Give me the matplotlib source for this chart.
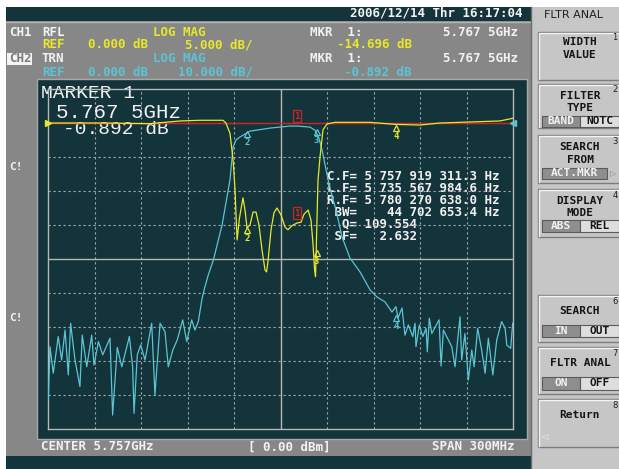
import matplotlib.pyplot as plt
from matplotlib.patches import Rectangle

# sweep settings
center_mhz = 5757
span_mhz = 300
start_mhz = center_mhz - span_mhz / 2
stop_mhz = center_mhz + span_mhz / 2

# CH2 TRN (cyan, 10 dB/div)
trn_freq = [5607.2, 5608.3, 5610.4, 5613.6, 5615.8, 5618.0, 5620.1, 5621.6, 5624.4, 5627.6,
            5629.1, 5632.0, 5635.2, 5636.7, 5639.5, 5642.3, 5647.0, 5648.7, 5651.7, 5654.6,
            5659.5, 5661.6, 5662.5, 5664.6, 5666.8, 5669.6, 5673.9, 5676.0, 5679.3, 5682.5,
            5684.6, 5687.5, 5690.4, 5693.9, 5696.5, 5699.7, 5701.8, 5704.0, 5706.2, 5707.7,
            5710.4, 5713.7, 5719.3, 5724.4, 5726.4, 5728.3, 5730.9, 5737.3, 5750.2, 5763.1,
            5767.7, 5776.0, 5779.2, 5781.8, 5783.8, 5786.4, 5788.9, 5792.8, 5796.7, 5801.8,
            5808.3, 5814.8, 5819.3, 5824.4, 5828.9, 5831.5, 5832.8, 5835.4, 5837.3, 5839.5,
            5842.3, 5843.8, 5844.4, 5846.6, 5848.8, 5850.9, 5851.7, 5853.0, 5854.6, 5859.3,
            5860.6, 5862.1, 5865.3, 5867.5, 5869.6, 5871.1, 5872.8, 5873.9, 5876.0, 5878.2,
            5880.4, 5881.9, 5884.2, 5886.8, 5889.0, 5891.1, 5894.0, 5896.5, 5899.7, 5901.9,
            5903.0, 5905.5, 5906.8]
trn_db = [-81.5, -65.8, -73.6, -62.8, -69.7, -60.9, -74.1, -58.9, -69.7, -77.5,
          -62.4, -71.7, -62.4, -71.2, -64.3, -68.2, -63.3, -85.9, -66.0, -71.7,
          -62.8, -71.7, -85.4, -68.2, -65.3, -69.7, -58.9, -80.0, -58.9, -61.4,
          -71.7, -66.8, -63.8, -57.9, -64.3, -57.9, -60.9, -58.4, -52.1, -49.1,
          -44.7, -40.3, -30.0, -16.8, -7.1, -5.0, -4.1, -2.4, -1.5, -0.9,
          -0.9, -1.2, -2.1, -4.4, -7.9, -13.8, -19.1, -25.6, -33.5, -39.7,
          -43.8, -49.1, -51.2, -52.6, -55.6, -54.0, -57.4, -54.4, -62.4, -59.4,
          -62.8, -58.9, -65.8, -59.4, -62.8, -60.4, -67.3, -57.4, -61.9, -57.9,
          -71.5, -60.9, -63.8, -65.8, -71.7, -64.8, -57.0, -69.7, -61.9, -75.6,
          -66.8, -71.7, -60.4, -66.8, -73.6, -63.3, -74.1, -63.8, -58.4, -60.4,
          -65.3, -66.3, -58.9]

# CH1 RFL (yellow, 5 dB/div)
rfl_freq = [5607.0, 5640.6, 5672.8, 5692.2, 5705.1, 5719.9, 5721.8, 5724.4, 5726.4, 5727.7,
            5728.3, 5729.0, 5730.5, 5732.8, 5734.1, 5735.4, 5737.3, 5739.3, 5741.2, 5743.1,
            5745.1, 5747.0, 5748.0, 5748.9, 5750.9, 5752.8, 5754.7, 5757.3, 5759.9, 5761.8,
            5764.4, 5767.7, 5770.2, 5772.2, 5774.8, 5776.7, 5778.0, 5779.0, 5779.6, 5780.2,
            5781.2, 5782.5, 5784.4, 5787.0, 5792.2, 5814.8, 5830.9, 5847.0, 5859.9, 5879.3,
            5898.6, 5907.0]
rfl_db = [0.0, 0.0, -0.1, 0.3, 0.4, 0.4, 0.0, -1.5, -5.4, -9.9,
          -13.5, -17.2, -14.0, -11.0, -12.8, -15.4, -15.0, -13.1, -13.1, -15.0,
          -18.7, -21.6, -21.9, -20.4, -15.7, -13.2, -12.5, -13.5, -15.3, -15.7,
          -15.1, -14.7, -14.6, -13.4, -12.8, -14.3, -17.9, -21.6, -22.6, -17.2,
          -8.4, -5.0, -1.0, -0.15, 0.1, 0.1, -0.2, -0.3, 0.0, 0.15,
          0.3, 0.7]

# markers 1..4
mkr_names = ["1", "2", "3", "4"]
mkr_freq = [5767.5, 5735.6, 5780.3, 5831.5]
mkr_trn_db = [-0.892, -3.2, -2.6, -57.4]
mkr_rfl_db = [-14.696, -15.7, -19.1, -0.7]

filter_lines = ["C.F= 5 757 919 311.3 Hz",
                "L.F= 5 735 567 984.6 Hz",
                "R.F= 5 780 270 638.0 Hz",
                " BW=    44 702 653.4 Hz",
                "  Q= 109.554",
                " SF=   2.632"]

DARK = "#12343a"
GREY = "#878787"
PANEL = "#c6c6c6"
WHITE = "#f2f2f2"
YEL = "#e8e82a"
CYN = "#5cc4d4"
RED = "#d02424"
MONO = "DejaVu Sans Mono"

fig = plt.figure(figsize=(6.19, 4.69), dpi=100)
bg = fig.add_axes([0, 0, 1, 1])
bg.set_xlim(0, 619)
bg.set_ylim(469, 0)
bg.axis("off")


def rect(x0, y0, x1, y1, fc, ec="none", lw=0.0, z=1):
    bg.add_patch(Rectangle((x0, y0), x1 - x0, y1 - y0, facecolor=fc,
                           edgecolor=ec, linewidth=lw, zorder=z))


def txt(x, y, s, color=WHITE, size=9, ha="left", weight="bold", family=MONO, z=5):
    bg.text(x, y, s, color=color, fontsize=size, ha=ha, va="center",
            fontweight=weight, family=family, zorder=z)


# screen frame
rect(6, 7, 531, 456, GREY)
rect(6, 7, 531, 21, DARK)
rect(6, 456, 533, 469, DARK)
rect(37, 79, 527, 439, DARK, ec="#a8a8a8", lw=1.0, z=2)
bg.plot([6, 531], [22, 22], color="#b4b4b4", lw=1, zorder=3)

# right soft-key panel
rect(531, 7, 619, 469, PANEL)
bg.plot([531, 531], [7, 469], color="#6a6a6a", lw=1, zorder=3)
txt(574, 15, "FLTR ANAL", color="#202020", size=8, ha="center", weight="normal", family="DejaVu Sans")


def softkey(y0, y1, num):
    rect(538, y0, 625, y1, PANEL, ec="#7c7c7c", lw=1.0, z=2)
    bg.plot([539, 539, 622], [y1 - 1, y0 + 1, y0 + 1], color="#f4f4f4", lw=1, zorder=3)
    txt(615, y0 + 6, num, color="#202020", size=6, ha="center", weight="normal", family="DejaVu Sans")


def toggle(y0, y1, left, right, lx0=542, mid=580, rx1=619):
    rect(lx0, y0, mid, y1, "#8e8e8e", ec="#5a5a5a", lw=0.8, z=3)
    rect(mid, y0, rx1, y1, "#dedede", ec="#5a5a5a", lw=0.8, z=3)
    txt((lx0 + mid) / 2, (y0 + y1) / 2, left, color=WHITE, size=8, ha="center")
    txt((mid + rx1) / 2, (y0 + y1) / 2, right, color="#151515", size=8, ha="center")


softkey(32, 80, "1")
txt(580, 42, "WIDTH", color="#151515", size=8, ha="center")
txt(580, 55, "VALUE", color="#151515", size=8, ha="center")

softkey(84, 128, "2")
txt(580, 96, "FILTER", color="#151515", size=8, ha="center")
txt(580, 108, "TYPE", color="#151515", size=8, ha="center")
toggle(116, 127, "BAND", "NOTC")

softkey(135, 183, "3")
txt(580, 147, "SEARCH", color="#151515", size=8, ha="center")
txt(580, 160, "FROM", color="#151515", size=8, ha="center")
rect(542, 168, 607, 179, "#8e8e8e", ec="#5a5a5a", lw=0.8, z=3)
txt(574, 173.5, "ACT.MKR", color=WHITE, size=8, ha="center")
txt(613, 173.5, "\u25b7", color="#8a8a8a", size=6, ha="center", weight="normal", family="DejaVu Sans")

softkey(189, 237, "4")
txt(580, 201, "DISPLAY", color="#151515", size=8, ha="center")
txt(580, 213, "MODE", color="#151515", size=8, ha="center")
toggle(220, 232, "ABS", "REL")

softkey(295, 342, "6")
txt(580, 311, "SEARCH", color="#151515", size=8, ha="center")
toggle(325, 337, "IN", "OUT")

softkey(347, 394, "7")
txt(580, 363, "FLTR ANAL", color="#151515", size=8, ha="center")
toggle(377, 390, "ON", "OFF")

softkey(399, 447, "8")
txt(580, 415, "Return", color="#151515", size=8, ha="center")
txt(544, 437, "\u25c1", color="#f0f0f0", size=6, ha="center", weight="normal", family="DejaVu Sans")

# header text
txt(523, 13, "2006/12/14 Thr 16:17:04", ha="right")
txt(9, 32, "CH1")
txt(42, 32, "RFL")
txt(153, 32, "LOG MAG", color=YEL)
txt(42, 45, "REF", color=YEL)
txt(88, 45, "0.000 dB", color=YEL)
txt(185, 45, "5.000 dB/", color=YEL)
rect(7, 53, 32, 65, "#f4f4f4", z=3)
txt(9, 59, "CH2", color="#7a7a7a")
txt(42, 58, "TRN")
txt(153, 58, "LOG MAG", color=CYN)
txt(42, 72, "REF", color=CYN)
txt(88, 72, "0.000 dB", color=CYN)
txt(178, 72, "10.000 dB/", color=CYN)
txt(310, 32, "MKR  1:")
txt(518, 32, "5.767 5GHz", ha="right")
txt(412, 45, "-14.696 dB", color=YEL, ha="right")
txt(310, 58, "MKR  1:")
txt(518, 58, "5.767 5GHz", ha="right")
txt(412, 72, "-0.892 dB", color=CYN, ha="right")
txt(9, 167, "C!", size=8)
txt(9, 318, "C!", size=8)

# footer text
txt(41, 447, "CENTER 5.757GHz")
txt(248, 447, "[ 0.00 dBm]")
txt(515, 447, "SPAN 300MHz", ha="right")

# graticule: 10 x 10 divisions, ref (0 dB) one division below top
ax = fig.add_axes([48 / 619, 1 - 429 / 469, 465 / 619, 340 / 469])
ax.set_facecolor("none")
ax.set_xlim(start_mhz, stop_mhz)
ax.set_ylim(-90, 10)
ax.set_xticks([])
ax.set_yticks([])
for s in ax.spines.values():
    s.set_color("#b8b8b8")
    s.set_linewidth(1.0)
for i in range(1, 10):
    f = start_mhz + i * span_mhz / 10
    d = -90 + i * 10
    solid = i == 5
    ax.axvline(f, color="#b8b8b8" if solid else "#a8a8a8", lw=1.0 if solid else 0.8,
               ls="-" if solid else (0, (2, 2.5)), zorder=1)
    ax.axhline(d, color="#b8b8b8" if solid else "#a8a8a8", lw=1.0 if solid else 0.8,
               ls="-" if solid else (0, (2, 2.5)), zorder=1)

ax.axhline(0, color=RED, lw=1.0, zorder=2)
ax.plot(trn_freq, trn_db, color=CYN, lw=0.9, zorder=3)
ax.plot(rfl_freq, [v * 2 for v in rfl_db], color=YEL, lw=0.9, zorder=4)

# reference position indicators
ax.plot([start_mhz], [0], marker=">", color=YEL, ms=4, clip_on=False, zorder=6)
ax.plot([stop_mhz], [0], marker="<", color=CYN, ms=4, clip_on=False, zorder=6)

# markers
for name, f, t, r in zip(mkr_names, mkr_freq, mkr_trn_db, mkr_rfl_db):
    if name == "1":
        for v in (t, r * 2):
            ax.annotate("1", (f, v), xytext=(0, 7), textcoords="offset points",
                        ha="center", va="center", color=RED, fontsize=6.5,
                        family=MONO, fontweight="bold", zorder=7,
                        bbox=dict(boxstyle="square,pad=0.15", fc="none", ec=RED, lw=0.9))
        continue
    for v, c in ((t, CYN), (r * 2, YEL)):
        ax.plot([f], [v], marker="^", mfc="none", mec=c, ms=5, mew=0.9, ls="none",
                zorder=7, transform=ax.transData)
        ax.annotate(name, (f, v), xytext=(0, -6), textcoords="offset points",
                    ha="center", va="center", color=c, fontsize=6.5,
                    family=MONO, fontweight="bold", zorder=7)

# marker readout overlay
txt(41, 93, "MARKER 1", size=14, weight="normal", family="Liberation Mono", z=8)
txt(56, 112, "5.767 5GHz", size=15, weight="normal", family="Liberation Mono", z=8)
txt(63, 130, "-0.892 dB", size=14, weight="normal", family="Liberation Mono", z=8)

# filter analysis results
for k, line in enumerate(filter_lines):
    txt(327, 177 + k * 11.8, line, size=9, z=8)

fig.savefig("out.png", dpi=100, facecolor="white")
